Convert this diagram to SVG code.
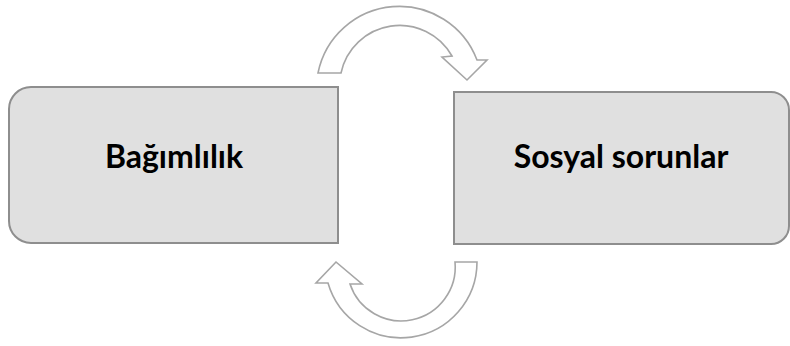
<svg xmlns="http://www.w3.org/2000/svg" width="790" height="346" viewBox="0 0 790 346">
<style>
.box{fill:#e0e0e0;stroke:#8e8e8e;stroke-width:2}
.arrow{fill:#ffffff;stroke:#a6a6a6;stroke-width:1.6;stroke-linejoin:miter}
.lbl{font-family:Lato,"Open Sans",sans-serif;font-weight:bold;font-size:32px;fill:#000;text-anchor:middle}
</style>
<rect width="790" height="346" fill="#ffffff"/>
<g id="node-bagimlilik">
<path class="box" d="M31,87 L338,87 L338,243 L31,243 A22 22 0 0 1 9,221 L9,109 A22 22 0 0 1 31,87 Z"/>
<text class="lbl" x="174" y="168">Bağımlılık</text>
</g>
<g id="node-sosyal">
<path class="box" d="M454,92 L771,92 A18 18 0 0 1 789,110 L789,226 A18 18 0 0 1 771,244 L454,244 Z"/>
<text class="lbl" x="621" y="168">Sosyal sorunlar</text>
</g>
<g id="connectors">
<path class="arrow" d="M318,73 A83 83 0 0 1 477,60 L487,60 L467,80 L442,57 L452,56 A60 60 0 0 0 341,73 Z"/>
<path class="arrow" d="M455,262 L477,262 A76 76 0 0 1 328,283 L316,283 L336,262 L362,284 L350,284 A54 54 0 0 0 455,262 Z"/>
</g>
</svg>
